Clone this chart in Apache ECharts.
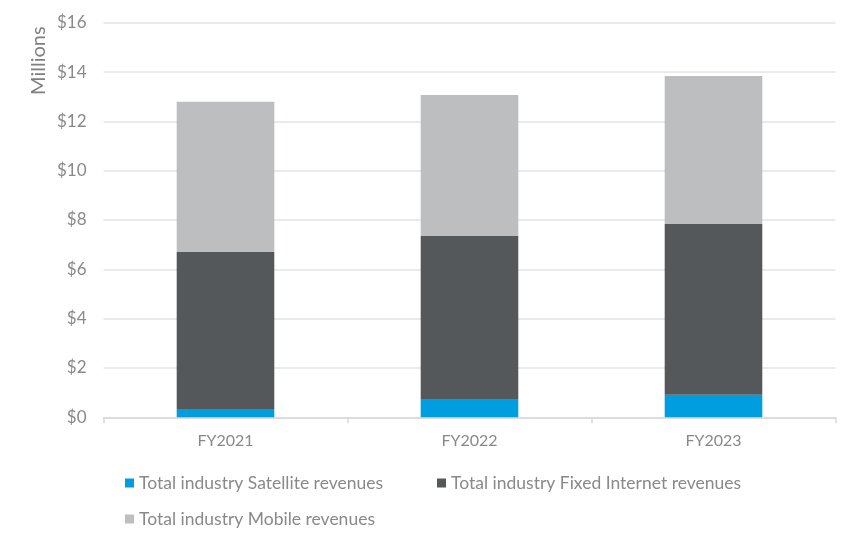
<!DOCTYPE html>
<html>
<head>
<meta charset="utf-8">
<script src="https://cdn.jsdelivr.net/npm/echarts@6/dist/echarts.min.js"></script>
<style>html,body{margin:0;padding:0;background:#fff;}#c{width:858px;height:546px;}</style>
</head>
<body>
<div id="c"></div>
<script>
const categories = ['FY2021', 'FY2022', 'FY2023'];
const satellite = [0.34, 0.71, 0.91];
const fixedInternet = [6.36, 6.64, 6.93];
const mobile = [6.09, 5.72, 6.00];
const seriesNames = ['Total industry Satellite revenues', 'Total industry Fixed Internet revenues', 'Total industry Mobile revenues'];
const yTicks = { min: 0, max: 16, interval: 2 };

const FONT = 'Lato';
const TXT = '#898989';
const chart = echarts.init(document.getElementById('c'), null, { renderer: 'canvas' });
const legendBase = {
  orient: 'horizontal', icon: 'rect', itemWidth: 9, itemHeight: 9, padding: 0,
  textStyle: { fontFamily: FONT, fontSize: 17.5, color: TXT }, selectedMode: false
};
chart.setOption({
  animation: false,
  color: ['#009DDF', '#54585A', '#BDBEC0'],
  grid: { left: 103.5, right: 22.5, top: 22.7, bottom: 128.7, containLabel: false },
  legend: [
    Object.assign({}, legendBase, { data: [seriesNames[0]], left: 125, top: 474 }),
    Object.assign({}, legendBase, { data: [seriesNames[1]], left: 437, top: 474 }),
    Object.assign({}, legendBase, { data: [seriesNames[2]], left: 125, top: 510 })
  ],
  graphic: [{
    type: 'text', x: 29, y: 95, rotation: Math.PI / 2,
    style: { text: 'Millions', fontFamily: FONT, fontSize: 20, fill: '#808080', textAlign: 'left', textVerticalAlign: 'top' }
  }],
  xAxis: {
    type: 'category', data: categories,
    axisLine: { lineStyle: { color: '#D9D9D9', width: 1.5 } },
    axisTick: { show: true, length: 6, lineStyle: { color: '#D9D9D9', width: 1.5 } },
    axisLabel: { fontFamily: FONT, fontSize: 16, color: TXT, margin: 16 }
  },
  yAxis: {
    type: 'value', min: yTicks.min, max: yTicks.max, interval: yTicks.interval,
    axisLine: { show: false }, axisTick: { show: false },
    splitLine: { lineStyle: { color: '#E3E3E3', width: 1.5 } },
    axisLabel: { fontFamily: FONT, fontSize: 17, color: TXT, margin: 17, formatter: v => '$' + v }
  },
  series: [
    { name: seriesNames[0], type: 'bar', stack: 't', data: satellite, barWidth: '40%' },
    { name: seriesNames[1], type: 'bar', stack: 't', data: fixedInternet, barWidth: '40%' },
    { name: seriesNames[2], type: 'bar', stack: 't', data: mobile, barWidth: '40%' }
  ]
});
</script>
</body>
</html>
